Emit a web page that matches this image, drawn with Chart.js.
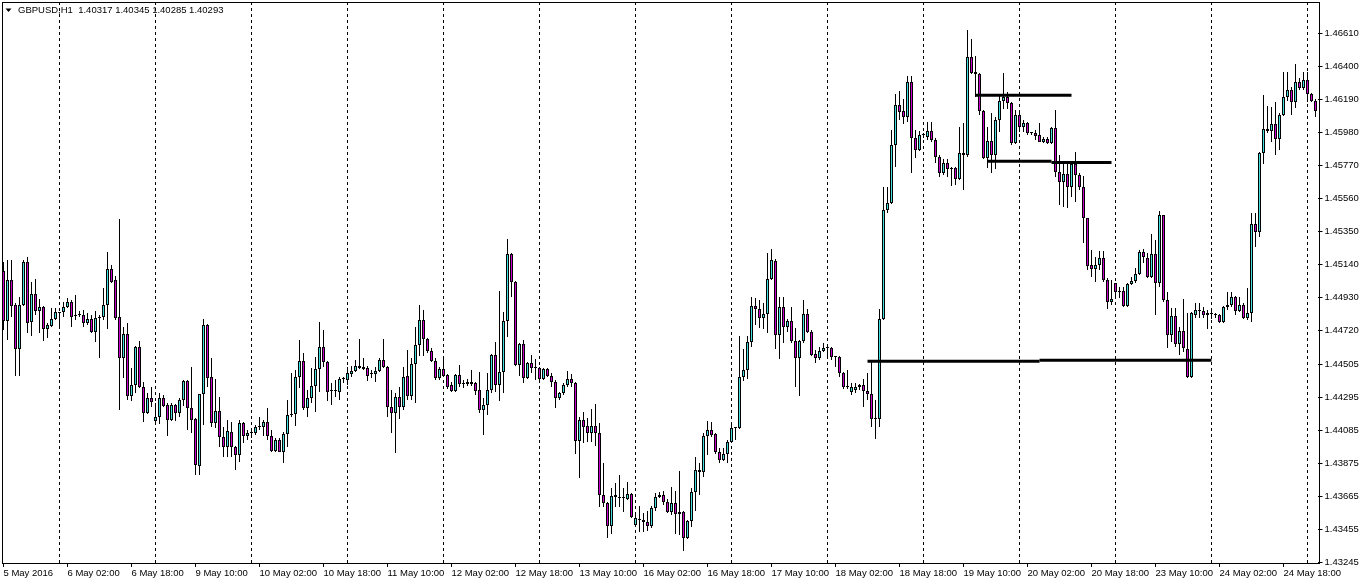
<!DOCTYPE html>
<html>
<head>
<meta charset="utf-8">
<title>GBPUSD,H1</title>
<script src="https://cdn.jsdelivr.net/npm/chart.js@4.4.1/dist/chart.umd.min.js"></script>
<style>
  html, body { margin: 0; padding: 0; background: #fff; }
  #wrap { width: 1362px; height: 585px; }
</style>
</head>
<body>
<div id="wrap"><canvas id="priceChart" width="1362" height="585"></canvas></div>
<script>
// Chart data
const symbolTitle = "GBPUSD,H1  1.40317 1.40345 1.40285 1.40293";
const firstLabel = "5 May 2016";
const tradingDays = ["5 May", "6 May", "9 May", "10 May", "11 May", "12 May", "13 May",
    "16 May", "17 May", "18 May", "19 May", "20 May", "23 May", "24 May", "25 May"];
const firstHour = 10;
const lastHour = 2;

const opens = [
    1.45100, 1.44782, 1.45042, 1.44883, 1.44604, 1.44883, 1.45157, 1.44775, 1.44953, 1.44845,
    1.44871, 1.44731, 1.44750, 1.44794, 1.44833, 1.44839, 1.44871, 1.44903, 1.44814, 1.44820,
    1.44820, 1.44769, 1.44794, 1.44712, 1.44801, 1.44807, 1.44883, 1.45112, 1.45042, 1.44807,
    1.44547, 1.44699, 1.44305, 1.44375, 1.44617, 1.44362, 1.44197, 1.44292, 1.44146, 1.44172,
    1.44292, 1.44248, 1.44153, 1.44248, 1.44197, 1.44280, 1.44400, 1.44229, 1.44159, 1.43860,
    1.44318, 1.44756, 1.44426, 1.44133, 1.44210, 1.44044, 1.43981, 1.44076, 1.43981, 1.43930,
    1.44133, 1.44051, 1.44070, 1.44070, 1.44108, 1.44108, 1.44140, 1.44051, 1.43955, 1.44025,
    1.43949, 1.44064, 1.44184, 1.44191, 1.44426, 1.44527, 1.44229, 1.44292, 1.44369, 1.44477,
    1.44617, 1.44521, 1.44337, 1.44337, 1.44331, 1.44413, 1.44407, 1.44445, 1.44464, 1.44496,
    1.44489, 1.44483, 1.44445, 1.44445, 1.44464, 1.44534, 1.44489, 1.44235, 1.44197, 1.44299,
    1.44235, 1.44432, 1.44305, 1.44508, 1.44629, 1.44788, 1.44667, 1.44591, 1.44527, 1.44420,
    1.44477, 1.44439, 1.44375, 1.44337, 1.44439, 1.44388, 1.44381, 1.44394, 1.44388, 1.44343,
    1.44216, 1.44248, 1.44343, 1.44566, 1.44375, 1.44458, 1.44782, 1.45208, 1.45030, 1.44502,
    1.44636, 1.44420, 1.44515, 1.44483, 1.44483, 1.44413, 1.44477, 1.44432, 1.44394, 1.44292,
    1.44324, 1.44375, 1.44413, 1.44388, 1.44019, 1.44153, 1.44114, 1.44070, 1.44114, 1.44070,
    1.43676, 1.43625, 1.43479, 1.43676, 1.43657, 1.43657, 1.43650, 1.43682, 1.43485, 1.43517,
    1.43517, 1.43504, 1.43479, 1.43593, 1.43663, 1.43676, 1.43631, 1.43568, 1.43625, 1.43555,
    1.43568, 1.43403, 1.43511, 1.43695, 1.43835, 1.43822, 1.44051, 1.44089, 1.44064, 1.43949,
    1.43898, 1.43936, 1.44013, 1.44102, 1.44102, 1.44426, 1.44470, 1.44648, 1.44877, 1.44858,
    1.44801, 1.44826, 1.45049, 1.45163, 1.44693, 1.44871, 1.44744, 1.44782, 1.44655, 1.44547,
    1.44655, 1.44826, 1.44712, 1.44572, 1.44547, 1.44591, 1.44610, 1.44610, 1.44553, 1.44553,
    1.44451, 1.44362, 1.44331, 1.44343, 1.44375, 1.44375, 1.44337, 1.44318, 1.44159, 1.44159,
    1.44794, 1.45487, 1.45532, 1.45900, 1.46155, 1.46116, 1.46078, 1.46301, 1.45945, 1.45869,
    1.45964, 1.45951, 1.45989, 1.45932, 1.45824, 1.45722, 1.45786, 1.45748, 1.45754, 1.45684,
    1.45837, 1.45837, 1.46460, 1.46364, 1.46352, 1.46116, 1.45818, 1.45926, 1.45837, 1.46059,
    1.46180, 1.46206, 1.46167, 1.45913, 1.46091, 1.46015, 1.46040, 1.45977, 1.45977, 1.45964,
    1.45920, 1.45939, 1.45913, 1.46009, 1.45729, 1.45665, 1.45716, 1.45633, 1.45780, 1.45710,
    1.45633, 1.45436, 1.45138, 1.45112, 1.45138, 1.45182, 1.45042, 1.44903, 1.45023, 1.44966,
    1.44972, 1.44877, 1.45017, 1.45036, 1.45081, 1.45220, 1.45182, 1.45061, 1.45208, 1.45023,
    1.45455, 1.44915, 1.44693, 1.44814, 1.44636, 1.44718, 1.44604, 1.44426, 1.44820, 1.44845,
    1.44845, 1.44833, 1.44826, 1.44820, 1.44820, 1.44775, 1.44871, 1.44883, 1.44934, 1.44845,
    1.44883, 1.44801, 1.44833, 1.45398, 1.45347, 1.45850, 1.46002, 1.45989, 1.46034, 1.45939,
    1.46091, 1.46206, 1.46250, 1.46174, 1.46301, 1.46263, 1.46314, 1.46225, 1.46180
];

const highs = [
    1.45157, 1.45169, 1.45169, 1.44896, 1.44934, 1.45169, 1.45189, 1.45030, 1.45049, 1.44922,
    1.44877, 1.44769, 1.44864, 1.44864, 1.44839, 1.44903, 1.44928, 1.44915, 1.44947, 1.44845,
    1.44852, 1.44833, 1.44820, 1.44845, 1.44820, 1.44992, 1.45220, 1.45138, 1.45068, 1.45430,
    1.44744, 1.44769, 1.44483, 1.44623, 1.44655, 1.44394, 1.44324, 1.44362, 1.44261, 1.44324,
    1.44311, 1.44261, 1.44261, 1.44254, 1.44292, 1.44407, 1.44407, 1.44489, 1.44165, 1.44318,
    1.44794, 1.44763, 1.44547, 1.44413, 1.44299, 1.44108, 1.44153, 1.44140, 1.43987, 1.44153,
    1.44140, 1.44089, 1.44089, 1.44121, 1.44172, 1.44153, 1.44229, 1.44089, 1.44038, 1.44038,
    1.44076, 1.44280, 1.44451, 1.44470, 1.44661, 1.44578, 1.44343, 1.44483, 1.44553, 1.44775,
    1.44725, 1.44527, 1.44388, 1.44407, 1.44426, 1.44426, 1.44489, 1.44496, 1.44534, 1.44667,
    1.44547, 1.44496, 1.44470, 1.44489, 1.44547, 1.44667, 1.44496, 1.44343, 1.44324, 1.44362,
    1.44489, 1.44597, 1.44547, 1.44744, 1.44883, 1.44852, 1.44674, 1.44610, 1.44547, 1.44489,
    1.44559, 1.44445, 1.44394, 1.44445, 1.44502, 1.44407, 1.44413, 1.44470, 1.44394, 1.44458,
    1.44292, 1.44451, 1.44572, 1.44648, 1.44972, 1.44839, 1.45303, 1.45214, 1.45036, 1.44642,
    1.44661, 1.44521, 1.44566, 1.44540, 1.44489, 1.44483, 1.44483, 1.44451, 1.44407, 1.44331,
    1.44388, 1.44464, 1.44445, 1.44394, 1.44172, 1.44203, 1.44165, 1.44222, 1.44254, 1.44133,
    1.43879, 1.43631, 1.43720, 1.43752, 1.43803, 1.43720, 1.43758, 1.43689, 1.43561, 1.43606,
    1.43561, 1.43574, 1.43606, 1.43689, 1.43695, 1.43701, 1.43650, 1.43727, 1.43701, 1.43828,
    1.43574, 1.43517, 1.43720, 1.43917, 1.43879, 1.44070, 1.44146, 1.44140, 1.44070, 1.43975,
    1.43975, 1.44025, 1.44140, 1.44108, 1.44686, 1.44604, 1.44686, 1.44934, 1.44928, 1.44915,
    1.44896, 1.45214, 1.45239, 1.45176, 1.44934, 1.44934, 1.44794, 1.44871, 1.44737, 1.44661,
    1.44915, 1.44858, 1.44725, 1.44597, 1.44617, 1.44642, 1.44629, 1.44617, 1.44559, 1.44559,
    1.44458, 1.44470, 1.44388, 1.44388, 1.44381, 1.44413, 1.44451, 1.44521, 1.44280, 1.44858,
    1.45633, 1.45633, 1.45996, 1.46225, 1.46244, 1.46193, 1.46339, 1.46339, 1.45996, 1.45989,
    1.45977, 1.46047, 1.46047, 1.45945, 1.45837, 1.45811, 1.45811, 1.45761, 1.45761, 1.46015,
    1.46040, 1.46631, 1.46574, 1.46466, 1.46358, 1.46123, 1.46015, 1.46104, 1.46078, 1.46212,
    1.46358, 1.46237, 1.46174, 1.46123, 1.46104, 1.46059, 1.46047, 1.45983, 1.45996, 1.46040,
    1.45951, 1.45951, 1.46015, 1.46123, 1.45837, 1.45786, 1.45792, 1.45792, 1.45856, 1.45722,
    1.45703, 1.45411, 1.45233, 1.45189, 1.45227, 1.45227, 1.45055, 1.45042, 1.45023, 1.44998,
    1.44998, 1.45023, 1.45061, 1.45119, 1.45233, 1.45239, 1.45214, 1.45335, 1.45297, 1.45481,
    1.45417, 1.44966, 1.44864, 1.44864, 1.44744, 1.44922, 1.44833, 1.44839, 1.44896, 1.44896,
    1.44871, 1.44852, 1.44852, 1.44833, 1.44826, 1.44877, 1.44966, 1.44966, 1.44941, 1.44934,
    1.44896, 1.44992, 1.45468, 1.45468, 1.45856, 1.46218, 1.46148, 1.46142, 1.46174, 1.46104,
    1.46364, 1.46364, 1.46269, 1.46415, 1.46326, 1.46364, 1.46364, 1.46231, 1.46193
];

const lows = [
    1.44725, 1.44661, 1.44807, 1.44432, 1.44432, 1.44877, 1.44705, 1.44686, 1.44820, 1.44705,
    1.44655, 1.44674, 1.44744, 1.44788, 1.44731, 1.44807, 1.44864, 1.44744, 1.44788, 1.44807,
    1.44744, 1.44756, 1.44705, 1.44648, 1.44547, 1.44788, 1.44731, 1.45023, 1.44788, 1.44216,
    1.44420, 1.44280, 1.44273, 1.44324, 1.44356, 1.44140, 1.44191, 1.44235, 1.44140, 1.44127,
    1.44235, 1.44051, 1.44146, 1.44146, 1.44172, 1.44242, 1.44089, 1.44070, 1.43803, 1.43803,
    1.44121, 1.44362, 1.44108, 1.44102, 1.43981, 1.43917, 1.43917, 1.43917, 1.43835, 1.43886,
    1.44006, 1.44025, 1.44038, 1.44057, 1.44089, 1.44051, 1.44025, 1.43949, 1.43949, 1.43949,
    1.43879, 1.43981, 1.44172, 1.44114, 1.44356, 1.44216, 1.44172, 1.44261, 1.44203, 1.44331,
    1.44489, 1.44273, 1.44248, 1.44299, 1.44280, 1.44388, 1.44375, 1.44426, 1.44458, 1.44477,
    1.44470, 1.44400, 1.44420, 1.44394, 1.44458, 1.44483, 1.44172, 1.44070, 1.43943, 1.44159,
    1.44216, 1.44280, 1.44280, 1.44261, 1.44559, 1.44559, 1.44578, 1.44521, 1.44407, 1.44407,
    1.44426, 1.44350, 1.44331, 1.44331, 1.44362, 1.44356, 1.44369, 1.44369, 1.44311, 1.44197,
    1.44057, 1.44184, 1.44324, 1.44331, 1.44273, 1.44324, 1.44680, 1.44934, 1.44496, 1.44432,
    1.44388, 1.44413, 1.44451, 1.44407, 1.44407, 1.44407, 1.44426, 1.44362, 1.44229, 1.44280,
    1.44311, 1.44362, 1.44362, 1.43936, 1.43784, 1.44006, 1.44013, 1.44013, 1.43987, 1.43600,
    1.43600, 1.43403, 1.43428, 1.43600, 1.43600, 1.43568, 1.43644, 1.43530, 1.43472, 1.43441,
    1.43441, 1.43447, 1.43466, 1.43574, 1.43657, 1.43612, 1.43561, 1.43549, 1.43428, 1.43422,
    1.43320, 1.43396, 1.43472, 1.43574, 1.43676, 1.43790, 1.43930, 1.44044, 1.43936, 1.43879,
    1.43892, 1.43879, 1.44006, 1.44025, 1.44095, 1.44400, 1.44413, 1.44617, 1.44756, 1.44737,
    1.44731, 1.44705, 1.45042, 1.44604, 1.44540, 1.44642, 1.44712, 1.44642, 1.44362, 1.44305,
    1.44642, 1.44705, 1.44559, 1.44515, 1.44534, 1.44585, 1.44553, 1.44534, 1.44489, 1.44426,
    1.44350, 1.44350, 1.44311, 1.44324, 1.44343, 1.44235, 1.44280, 1.44108, 1.44032, 1.44108,
    1.44788, 1.45468, 1.45525, 1.45761, 1.46059, 1.46034, 1.46047, 1.45722, 1.45818, 1.45862,
    1.45945, 1.45932, 1.45920, 1.45786, 1.45697, 1.45710, 1.45697, 1.45640, 1.45646, 1.45678,
    1.45614, 1.45824, 1.46352, 1.46206, 1.46091, 1.45811, 1.45754, 1.45722, 1.45748, 1.45983,
    1.46129, 1.46129, 1.45900, 1.45907, 1.45983, 1.45983, 1.45964, 1.45964, 1.45932, 1.45920,
    1.45913, 1.45907, 1.45907, 1.45697, 1.45519, 1.45506, 1.45500, 1.45570, 1.45538, 1.45614,
    1.45278, 1.45106, 1.45061, 1.45030, 1.45106, 1.45030, 1.44858, 1.44883, 1.44934, 1.44928,
    1.44871, 1.44871, 1.45011, 1.45023, 1.45074, 1.45150, 1.45055, 1.45055, 1.44820, 1.44998,
    1.44903, 1.44610, 1.44648, 1.44617, 1.44566, 1.44585, 1.44420, 1.44420, 1.44801, 1.44801,
    1.44801, 1.44731, 1.44794, 1.44801, 1.44769, 1.44769, 1.44852, 1.44871, 1.44820, 1.44839,
    1.44794, 1.44788, 1.44775, 1.45252, 1.45316, 1.45780, 1.45977, 1.45920, 1.45837, 1.45869,
    1.46085, 1.46180, 1.46091, 1.46136, 1.46250, 1.46250, 1.46174, 1.46174, 1.46078
];

const closes = [
    1.44782, 1.45042, 1.44877, 1.44604, 1.44883, 1.45157, 1.44769, 1.44953, 1.44845, 1.44871,
    1.44731, 1.44756, 1.44794, 1.44839, 1.44833, 1.44871, 1.44903, 1.44807, 1.44820, 1.44820,
    1.44769, 1.44794, 1.44712, 1.44801, 1.44807, 1.44883, 1.45112, 1.45030, 1.44801, 1.44547,
    1.44699, 1.44305, 1.44375, 1.44617, 1.44362, 1.44197, 1.44292, 1.44267, 1.44172, 1.44292,
    1.44242, 1.44153, 1.44248, 1.44197, 1.44280, 1.44400, 1.44229, 1.44153, 1.43866, 1.44318,
    1.44756, 1.44420, 1.44133, 1.44210, 1.44044, 1.43981, 1.44083, 1.43981, 1.43930, 1.44133,
    1.44051, 1.44070, 1.44070, 1.44108, 1.44108, 1.44140, 1.44051, 1.43955, 1.44025, 1.43949,
    1.44064, 1.44184, 1.44191, 1.44426, 1.44527, 1.44229, 1.44292, 1.44369, 1.44477, 1.44617,
    1.44521, 1.44331, 1.44337, 1.44337, 1.44413, 1.44413, 1.44451, 1.44464, 1.44496, 1.44483,
    1.44477, 1.44432, 1.44445, 1.44464, 1.44534, 1.44489, 1.44235, 1.44197, 1.44299, 1.44235,
    1.44426, 1.44305, 1.44508, 1.44629, 1.44788, 1.44667, 1.44591, 1.44527, 1.44420, 1.44477,
    1.44432, 1.44362, 1.44337, 1.44439, 1.44381, 1.44381, 1.44394, 1.44381, 1.44337, 1.44216,
    1.44248, 1.44343, 1.44566, 1.44375, 1.44458, 1.44782, 1.45208, 1.45030, 1.44502, 1.44636,
    1.44420, 1.44515, 1.44483, 1.44483, 1.44413, 1.44477, 1.44432, 1.44394, 1.44292, 1.44324,
    1.44375, 1.44413, 1.44388, 1.44019, 1.44153, 1.44108, 1.44070, 1.44114, 1.44070, 1.43676,
    1.43625, 1.43479, 1.43670, 1.43663, 1.43657, 1.43657, 1.43682, 1.43536, 1.43530, 1.43517,
    1.43504, 1.43479, 1.43593, 1.43663, 1.43676, 1.43631, 1.43568, 1.43625, 1.43555, 1.43568,
    1.43403, 1.43511, 1.43695, 1.43835, 1.43822, 1.44051, 1.44089, 1.44057, 1.43949, 1.43898,
    1.43936, 1.44013, 1.44102, 1.44102, 1.44426, 1.44470, 1.44648, 1.44877, 1.44858, 1.44801,
    1.44826, 1.45049, 1.45169, 1.44693, 1.44871, 1.44744, 1.44782, 1.44655, 1.44547, 1.44655,
    1.44826, 1.44712, 1.44566, 1.44547, 1.44591, 1.44610, 1.44610, 1.44553, 1.44553, 1.44451,
    1.44362, 1.44362, 1.44362, 1.44362, 1.44362, 1.44337, 1.44318, 1.44159, 1.44159, 1.44794,
    1.45487, 1.45532, 1.45900, 1.46155, 1.46110, 1.46078, 1.46301, 1.45945, 1.45869, 1.45964,
    1.45964, 1.45989, 1.45932, 1.45824, 1.45722, 1.45786, 1.45748, 1.45748, 1.45684, 1.45850,
    1.45850, 1.46460, 1.46358, 1.46352, 1.46116, 1.45818, 1.45926, 1.45837, 1.46059, 1.46180,
    1.46206, 1.46167, 1.45913, 1.46091, 1.46015, 1.46040, 1.45977, 1.45977, 1.45958, 1.45920,
    1.45939, 1.45913, 1.46009, 1.45729, 1.45665, 1.45716, 1.45633, 1.45780, 1.45710, 1.45633,
    1.45436, 1.45131, 1.45112, 1.45138, 1.45182, 1.45042, 1.44903, 1.44922, 1.44966, 1.44966,
    1.44877, 1.45017, 1.45036, 1.45081, 1.45220, 1.45189, 1.45061, 1.45208, 1.45023, 1.45455,
    1.44915, 1.44693, 1.44814, 1.44636, 1.44718, 1.44610, 1.44426, 1.44833, 1.44852, 1.44845,
    1.44820, 1.44820, 1.44826, 1.44820, 1.44775, 1.44871, 1.44883, 1.44934, 1.44845, 1.44883,
    1.44801, 1.44833, 1.45398, 1.45347, 1.45850, 1.46002, 1.45989, 1.46034, 1.45939, 1.46091,
    1.46206, 1.46250, 1.46174, 1.46301, 1.46263, 1.46314, 1.46225, 1.46180, 1.46116
];

// Price axis labels
const priceTicks = [1.43245, 1.43455, 1.43665, 1.43875, 1.44085, 1.44295, 1.44505, 1.44720,
    1.44930, 1.45140, 1.45350, 1.45560, 1.45770, 1.45980, 1.46190, 1.46400, 1.46610];
const priceMin = 1.43244;
const priceMax = 1.46809;

// Horizontal levels drawn on the chart
const levelPrices = [1.46216, 1.45797, 1.45789, 1.44526, 1.44532];
const levelStart = ["19 May 13:00", "19 May 16:00", "20 May 08:00", "18 May 10:00", "20 May 05:00"];
const levelEnd = ["20 May 13:00", "20 May 08:00", "20 May 23:00", "20 May 05:00", "24 May 00:00"];

// Build hourly labels
const timeLabels = [];
tradingDays.forEach((day, d) => {
    const from = d === 0 ? firstHour : 0;
    const to = d === tradingDays.length - 1 ? lastHour : 23;
    for (let h = from; h <= to; h++) {
        timeLabels.push(`${day} ${String(h).padStart(2, "0")}:00`);
    }
});

const upColor = "#40E0E0";
const downColor = "#CC00CC";
const labelFont = { family: "'Liberation Sans', Arial, sans-serif", size: 9.5 };

const levelSets = levelPrices.map((p, i) => ({
    type: "line",
    data: [{ x: levelStart[i], y: p }, { x: levelEnd[i], y: p }],
    borderColor: "#000",
    borderWidth: 3,
    pointRadius: 0,
    fill: false,
    order: 0,
}));

// Day separators, frame and symbol header
const mtFrame = {
    id: "mtFrame",
    beforeDatasetsDraw(chart) {
        const { ctx, chartArea, scales } = chart;
        ctx.save();
        ctx.strokeStyle = "#000";
        ctx.lineWidth = 1;
        ctx.setLineDash([3, 3]);
        timeLabels.forEach((t, i) => {
            if (!t.endsWith(" 00:00")) return;
            const x = Math.round(scales.x.getPixelForValue(i) - 0.5) + 0.5;
            ctx.beginPath();
            ctx.moveTo(x, chartArea.top);
            ctx.lineTo(x, chartArea.bottom);
            ctx.stroke();
        });
        ctx.restore();
    },
    afterDraw(chart) {
        const { ctx, chartArea } = chart;
        ctx.save();
        ctx.strokeStyle = "#000";
        ctx.lineWidth = 1;
        const l = Math.floor(chartArea.left) + 1.5;
        const t = Math.floor(chartArea.top) + 0.5;
        const r = Math.round(chartArea.right) + 1.5;
        const b = Math.floor(chartArea.bottom) + 0.5;
        ctx.strokeRect(l, t, r - l, b - t);

        ctx.fillStyle = "#000";
        ctx.beginPath();
        ctx.moveTo(5.5, 8.5);
        ctx.lineTo(11.5, 8.5);
        ctx.lineTo(8.5, 12);
        ctx.closePath();
        ctx.fill();
        ctx.font = `${labelFont.size}px ${labelFont.family}`;
        ctx.textBaseline = "middle";
        ctx.fillText(symbolTitle, 18, 10.5);
        ctx.restore();
    },
};

const ctx = document.getElementById("priceChart").getContext("2d");

const priceChart = new Chart(ctx, {
    type: "bar",
    data: {
        labels: timeLabels,
        datasets: [
            {
                label: "Body",
                data: opens.map((o, i) => [o, closes[i]]),
                backgroundColor: opens.map((o, i) => (closes[i] >= o ? upColor : downColor)),
                borderColor: "#000",
                borderWidth: 1,
                borderSkipped: false,
                barThickness: 3,
                minBarLength: 1,
                inflateAmount: 0,
                grouped: false,
                order: 1,
            },
            {
                label: "Wick",
                data: lows.map((l, i) => [l, highs[i]]),
                backgroundColor: "#000",
                borderWidth: 0,
                barThickness: 1,
                inflateAmount: 0,
                grouped: false,
                order: 2,
            },
            ...levelSets,
        ],
    },
    options: {
        responsive: false,
        animation: false,
        devicePixelRatio: 1,
        events: [],
        layout: { padding: { left: 1.5, top: 2, right: 0, bottom: 0 } },
        plugins: {
            legend: { display: false },
            tooltip: { enabled: false },
        },
        scales: {
            x: {
                type: "category",
                offset: true,
                border: { display: false },
                grid: {
                    offset: false,
                    drawOnChartArea: false,
                    drawTicks: true,
                    tickLength: 4,
                    color: "#000",
                },
                ticks: {
                    autoSkip: false,
                    maxRotation: 0,
                    minRotation: 0,
                    align: "start",
                    padding: 1,
                    color: "#000",
                    font: labelFont,
                    callback: (value, index) => {
                        if (index === 0) return firstLabel;
                        return index % 16 === 0 ? timeLabels[index] : null;
                    },
                },
                afterFit: (scale) => {
                    scale.height = 22;
                    scale.paddingLeft = 0;
                    scale.paddingRight = 0;
                },
            },
            y: {
                position: "right",
                min: priceMin,
                max: priceMax,
                border: { display: false },
                grid: {
                    drawOnChartArea: false,
                    drawTicks: true,
                    tickLength: 5,
                    color: "#000",
                },
                ticks: {
                    padding: 2,
                    color: "#000",
                    font: labelFont,
                    callback: (v) => Number(v).toFixed(5),
                },
                afterBuildTicks: (axis) => {
                    axis.ticks = priceTicks.map((v) => ({ value: v }));
                },
                afterFit: (scale) => {
                    scale.width = 44.5;
                    scale.paddingTop = 0;
                    scale.paddingBottom = 0;
                },
            },
        },
    },
    plugins: [mtFrame],
});
</script>
</body>
</html>
